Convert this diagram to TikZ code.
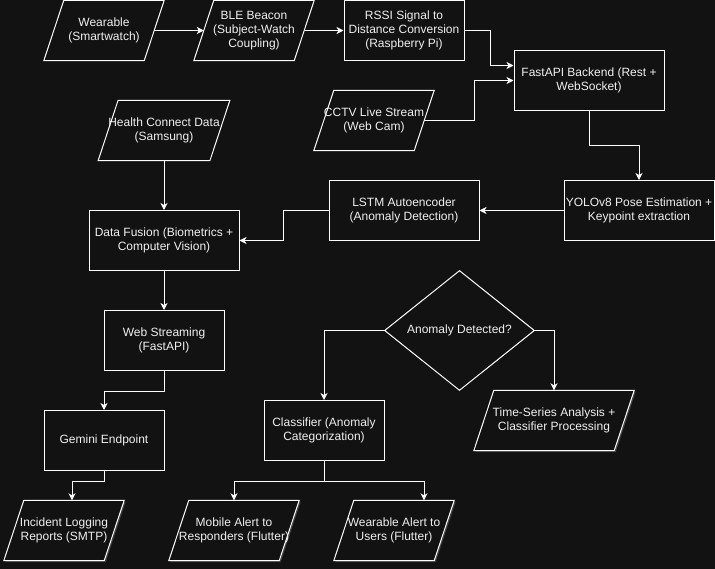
\documentclass[tikz,border=0pt]{standalone}
\usepackage{fontspec}
\setmainfont{Liberation Sans}
\usetikzlibrary{positioning,arrows.meta,shapes.geometric,shadows,backgrounds}
\definecolor{bgdark}{RGB}{18,18,18}
\definecolor{txtlight}{RGB}{240,240,240}

\begin{document}
\begin{tikzpicture}[x=1pt,y=-1pt,
  font=\fontsize{12}{14}\selectfont,
  box/.style={draw=white,line width=1pt,fill=bgdark,text=txtlight,minimum width=120pt,minimum height=60pt,align=center,inner sep=0pt},
  io/.style={text=txtlight,minimum width=100pt,minimum height=60pt,align=center,inner sep=0pt},
  decide/.style={diamond,draw=white,line width=1pt,fill=bgdark,text=txtlight,minimum width=150pt,minimum height=120pt,inner sep=0pt},
  flow/.style={white,line width=1pt,-{Stealth[length=7pt,width=7pt,inset=2pt]}},
  ioline/.style={draw=white,line width=1pt,fill=bgdark},
  glow/.style={drop shadow={fill=white,opacity=0.2,shadow xshift=1.5pt,shadow yshift=-1.5pt}}]

\useasboundingbox (0,0) rectangle (715,569);

% Inputs
\node[io] (wear) at (104,30.5) {Wearable\\(Smartwatch)};
\node[io] (ble) at (254,30.5) {BLE Beacon\\(Subject-Watch\\Coupling)};
\node[box] (rssi) at (404,30.5) {RSSI Signal to\\Distance Conversion\\(Raspberry Pi)};
\node[box,minimum width=150pt] (fast) at (589,80.5) {FastAPI Backend (Rest +\\WebSocket)};
\node[io] (cctv) at (374,120.5) {CCTV Live Stream\\(Web Cam)};
\node[io] (health) at (164,130.5) {Health Connect Data\\(Samsung)};

% Processing
\node[box,minimum width=150pt] (yolo) at (639,210.5) {YOLOv8 Pose Estimation +\\Keypoint extraction};
\node[box,minimum width=150pt] (lstm) at (404,210.5) {LSTM Autoencoder\\(Anomaly Detection)};
\node[box,minimum width=150pt] (fuse) at (164,240.5) {Data Fusion (Biometrics +\\Computer Vision)};
\node[box] (web) at (164,340.5) {Web Streaming\\(FastAPI)};
\node[box] (gem) at (104,440.5) {Gemini Endpoint};
\node[decide] (anom) at (459.5,330.5) {Anomaly Detected?};
\node[box] (cls) at (324,430.5) {Classifier (Anomaly\\Categorization)};
\node[io,minimum width=140pt] (ts) at (554,420.5) {Time-Series Analysis +\\Classifier Processing};

% Outputs
\node[io] (inc) at (64,530.5) {Incident Logging\\Reports (SMTP)};
\node[io] (mob) at (234,530.5) {Mobile Alert to\\Responders (Flutter)};
\node[io] (wal) at (394,530.5) {Wearable Alert to\\Users (Flutter)};

% Parallelograms behind the texts
\begin{scope}[on background layer]
\fill[bgdark] (0,0) rectangle (715,569);
\foreach \n in {wear,ble,cctv,health}
    \draw[ioline] ([xshift=10pt]\n.north west) -- ([xshift=10pt]\n.north east) -- ([xshift=-10pt]\n.south east) -- ([xshift=-10pt]\n.south west) -- cycle;
\foreach \n in {ts,inc,mob,wal}
    \draw[ioline,glow] ([xshift=10pt]\n.north west) -- ([xshift=10pt]\n.north east) -- ([xshift=-10pt]\n.south east) -- ([xshift=-10pt]\n.south west) -- cycle;
\end{scope}

% Connections
\draw[flow] (wear.east) -- (ble.west);
\draw[flow] (ble.east) -- (rssi.west);
\draw[flow] (rssi.east) -- ++(26,0) |- ([yshift=15pt]fast.west);
\draw[flow] (cctv.east) -- ++(50,0) |- (fast.west);
\draw[flow] (fast.south) -- ++(0,35) -| (yolo.north);
\draw[flow] (yolo.west) -- (lstm.east);
\draw[flow] (lstm.west) -- ++(-45,0) |- (fuse.east);
\draw[flow] (health.south) -- (fuse.north);
\draw[flow] (fuse.south) -- (web.north);
\draw[flow] (web.south) -- ++(0,20) -| (gem.north);
\draw[flow] (gem.south) -- ++(0,10) -| ([xshift=8pt]inc.north);
\draw[flow] (anom.west) -| (cls.north);
\draw[flow] (anom.east) -| (ts.north);
\draw[flow] (cls.south) -- ++(0,20) -| (mob.north);
\draw[flow] (cls.south) -- ++(0,20) -| ([xshift=30pt]wal.north);
\end{tikzpicture}
\end{document}
